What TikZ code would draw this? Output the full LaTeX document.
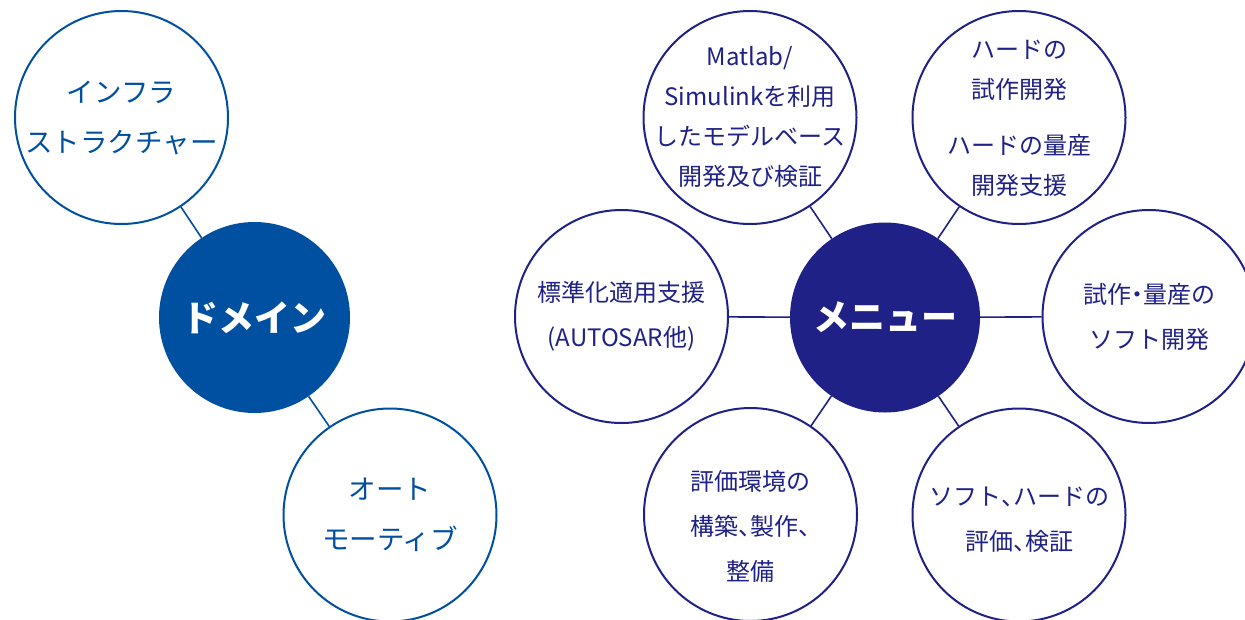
\documentclass[tikz,border=0pt]{standalone}
\usepackage{fontspec}
\newfontfamily\jp{Noto Sans CJK JP}
\newfontfamily\jph[RawFeature=+halt]{Noto Sans CJK JP}
\newcommand{\hp}[1]{{\jph #1}}
\definecolor{dblue}{HTML}{0050A2}
\definecolor{navy}{HTML}{1F2187}
\begin{document}
\begin{tikzpicture}[x=1pt,y=-1pt,
  satL/.style={circle, draw=dblue, line width=2pt, minimum size=213pt, inner sep=0pt, fill=white},
  satR/.style={circle, draw=navy, line width=2pt, minimum size=213pt, inner sep=0pt, fill=white},
  hubL/.style={circle, fill=dblue, minimum size=191pt, inner sep=0pt},
  hubR/.style={circle, fill=navy, minimum size=190pt, inner sep=0pt},
  txtL/.style={align=center, text=dblue, font=\jp\fontsize{27.5pt}{50pt}\selectfont},
  txtR/.style={align=center, text=navy, font=\jp\fontsize{24pt}{40pt}\selectfont},
  txtR2/.style={align=center, text=navy, font=\jp\fontsize{24pt}{45pt}\selectfont},
  hubtxt/.style={text=white, font=\jp\bfseries\fontsize{36pt}{40pt}\selectfont},
  linkL/.style={draw=dblue, line width=1.6pt},
  linkR/.style={draw=navy, line width=1.6pt}]
\useasboundingbox (0,0) rectangle (1245,619);

% left group
\node[hubL] (dom) at (254.5,317.5) {};
\node[satL] (inf) at (121.5,117.5) {};
\node[satL] (aut) at (390,515) {};
\node[hubtxt] (domt) at (dom) {ドメイン};
\node[txtL] (inft) at (inf) {インフラ\\ストラクチャー};
\node[txtL] (autt) at (aut) {オート\\モーティブ};
\draw[linkL] (dom) -- (inf);
\draw[linkL] (dom) -- (aut);

% right group
\node[hubR] (men) at (885,317.5) {};
\node[satR] (mat) at (750,117.5) {};
\node[satR] (hrd) at (1019,117.5) {};
\node[satR] (std) at (621.5,316.5) {};
\node[satR] (shi) at (1149,316.5) {};
\node[satR] (hyo) at (750.5,514.5) {};
\node[satR] (sof) at (1019,515) {};
\node[hubtxt] (ment) at (men) {メニュー};
\node[txtR] (matt) at ([yshift=1pt]mat) {Matlab/\\Simulinkを利用\\したモデルベース\\開発及び検証};
\node[txtR] (hrdt) at ([yshift=-1pt]hrd) {ハードの\\試作開発\\[16pt]ハードの量産\\開発支援};
\node[txtR2] (stdt) at (std) {標準化適用支援\\(AUTOSAR他)};
\node[txtR2] (shit) at (shi) {試作\hp{・}量産の\\ソフト開発};
\node[txtR2] (hyot) at ([yshift=-12pt]hyo) {評価環境の\\構築\hp{、}製作\hp{、}\\整備};
\node[txtR2] (soft) at ([yshift=-5pt]sof) {ソフト\hp{、}ハードの\\評価\hp{、}検証};
\draw[linkR] (men) -- (mat);
\draw[linkR] (men) -- (hrd);
\draw[linkR] (men) -- (std);
\draw[linkR] (men) -- (shi);
\draw[linkR] (men) -- (hyo);
\draw[linkR] (men) -- (sof);
\end{tikzpicture}
\end{document}
